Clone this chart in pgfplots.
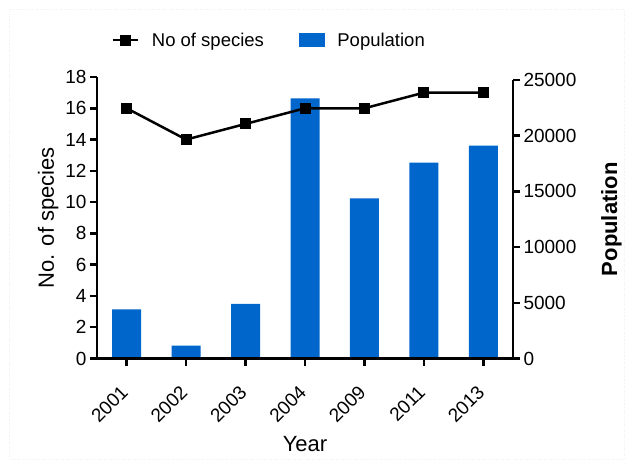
\documentclass[border=0pt]{standalone}
\usepackage{fontspec}
\setmainfont{Liberation Sans}
\usepackage{pgfplots}
\pgfplotsset{compat=1.18}
\definecolor{barblue}{RGB}{0,102,204}

\pgfplotsset{
  common/.style={
    scale only axis, width=416bp,
    at={(0,0)}, anchor=south west,
    xmin=-0.5, xmax=6.5, ymin=0,
    axis line style={line width=2.5bp, black},
    tick style={line width=2.5bp, black},
    tick align=outside, major tick length=7bp,
    ticklabel style={font=\fontsize{19bp}{22bp}\selectfont},
    label style={font=\fontsize{22bp}{26bp}\selectfont},
    /pgf/number format/assume math mode=true,
    /pgf/number format/1000 sep={},
    clip=false,
  },
  linelegend/.style={
    legend image code/.code={\draw[mark repeat=2,mark phase=2,##1]
      plot coordinates {(0bp,0bp)(12.5bp,0bp)(25bp,0bp)};}
  },
  barlegend/.style={
    legend image code/.code={\fill[barblue] (0bp,-6.5bp) rectangle (25bp,6.5bp);}
  },
}

\begin{document}
\begin{tikzpicture}
% page: 632 x 468 bp, axis corner at (97, 109.5) from the lower left
\useasboundingbox (-97bp,-109.5bp) rectangle (535bp,358.5bp);
\draw[gray!12, dotted] (-88bp,-100.5bp) rectangle (527bp,349.5bp);

% population bars, right axis
\begin{axis}[common, height=278.5bp,
  ymax=25000, ytick={0,5000,...,25000}, scaled y ticks=false,
  axis y line*=right, axis x line=none,
  ylabel={\bfseries Population}, ylabel shift=18bp,
]
\addplot[ybar, bar width=29bp, fill=barblue, draw=none] coordinates {
  (0,4400) (1,1150) (2,4900) (3,23350) (4,14380) (5,17580) (6,19100)};
\end{axis}

% number of species, left axis
\begin{axis}[common, height=281.5bp,
  ymax=18, ytick={0,2,...,18},
  axis x line*=bottom, axis y line*=left,
  xtick={0,...,6}, xticklabels={2001,2002,2003,2004,2009,2011,2013},
  x tick label style={xshift=-7bp, yshift=-14bp, rotate=45, anchor=north east},
  xlabel={Year}, xlabel shift=4bp,
  ylabel={No. of species},
  legend columns=2,
  legend style={draw=none, fill=none, at={(0.027,1.131)}, anchor=west,
    font=\fontsize{18.5bp}{22bp}\selectfont,
    /tikz/every odd column/.append style={column sep=11bp},
    /tikz/every even column/.append style={column sep=33bp}},
]
\addplot[black, line width=2.5bp, mark=square*, mark size=5bp,
  mark options={line width=1bp}, linelegend]
  coordinates {(0,16) (1,14) (2,15) (3,16) (4,16) (5,17) (6,17)};
\addlegendentry{No of species}
\addlegendimage{barlegend}
\addlegendentry{Population}
\end{axis}
\end{tikzpicture}
\end{document}
